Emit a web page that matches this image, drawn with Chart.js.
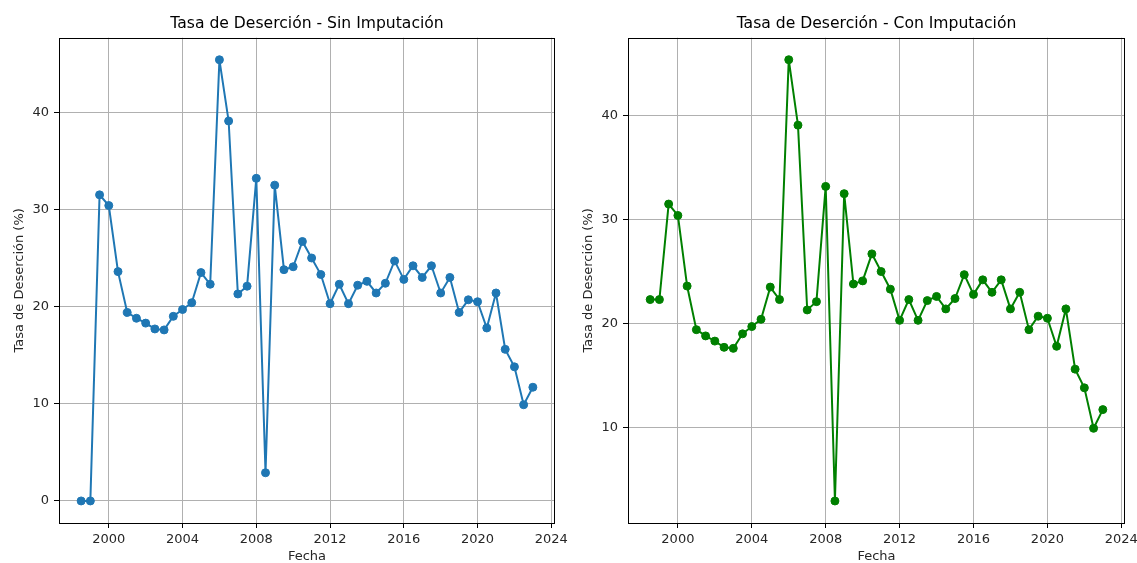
<!DOCTYPE html>
<html>
<head>
<meta charset="utf-8">
<script src="https://cdn.jsdelivr.net/npm/chart.js@4"></script>
<style>
  html, body { margin: 0; padding: 0; background: #fff; }
  body { width: 1137px; height: 563px; position: relative; overflow: hidden; }
  .panel { position: absolute; top: 0; height: 563px; }
  #panelSin { left: 0; width: 570px; }
  #panelCon { left: 568px; width: 569px; }
</style>
</head>
<body>
<div class="panel" id="panelSin"><canvas id="chartSin"></canvas></div>
<div class="panel" id="panelCon"><canvas id="chartCon"></canvas></div>
<script>
// Fechas (años decimales, semestrales)
const fechas = [
  1998.5, 1999, 1999.5, 2000, 2000.5, 2001, 2001.5, 2002, 2002.5, 2003,
  2003.5, 2004, 2004.5, 2005, 2005.5, 2006, 2006.5, 2007, 2007.5, 2008,
  2008.5, 2009, 2009.5, 2010, 2010.5, 2011, 2011.5, 2012, 2012.5, 2013,
  2013.5, 2014, 2014.5, 2015, 2015.5, 2016, 2016.5, 2017, 2017.5, 2018,
  2018.5, 2019, 2019.5, 2020, 2020.5, 2021, 2021.5, 2022, 2022.5, 2023
];

// Tasa de deserción sin imputación (%)
const sinImputacion = [
  0, 0, 31.5, 30.4, 23.6, 19.4, 18.8, 18.3, 17.7, 17.6,
  19.0, 19.7, 20.4, 23.5, 22.3, 45.4, 39.1, 21.3, 22.1, 33.2,
  2.9, 32.5, 23.8, 24.1, 26.7, 25.0, 23.3, 20.3, 22.3, 20.3,
  22.2, 22.6, 21.4, 22.4, 24.7, 22.8, 24.2, 23.0, 24.2, 21.4,
  23.0, 19.4, 20.7, 20.5, 17.8, 21.4, 15.6, 13.8, 9.9, 11.7
];

// Tasa de deserción con imputación (%)
const conImputacion = [
  22.3, 22.3, 31.5, 30.4, 23.6, 19.4, 18.8, 18.3, 17.7, 17.6,
  19.0, 19.7, 20.4, 23.5, 22.3, 45.4, 39.1, 21.3, 22.1, 33.2,
  2.9, 32.5, 23.8, 24.1, 26.7, 25.0, 23.3, 20.3, 22.3, 20.3,
  22.2, 22.6, 21.4, 22.4, 24.7, 22.8, 24.2, 23.0, 24.2, 21.4,
  23.0, 19.4, 20.7, 20.5, 17.8, 21.4, 15.6, 13.8, 9.9, 11.7
];

// Marcas de los ejes
const xTicks = [2000, 2004, 2008, 2012, 2016, 2020, 2024];
const yTicksSin = [0, 10, 20, 30, 40];
const yTicksCon = [10, 20, 30, 40];

const FONT = "'DejaVu Sans', sans-serif";
const TEXT = '#262626';

// Marco de los ejes (como los spines de matplotlib)
const framePlugin = {
  id: 'frame',
  afterDatasetsDraw(chart) {
    const a = chart.chartArea;
    const ctx = chart.ctx;
    ctx.save();
    ctx.strokeStyle = '#000';
    ctx.lineWidth = 1;
    ctx.strokeRect(Math.round(a.left) + 0.5, Math.round(a.top) + 0.5,
      Math.round(a.right - a.left) - 1, Math.round(a.bottom - a.top));
    ctx.restore();
  }
};

function crearGrafico(id, titulo, valores, color, yTicks, yMin, yMax, yWidth, yTitlePad, padRight) {
  const ctx = document.getElementById(id).getContext('2d');
  return new Chart(ctx, {
    type: 'line',
    data: {
      datasets: [{
        data: fechas.map((f, i) => ({ x: f, y: valores[i] })),
        borderColor: color,
        backgroundColor: color,
        borderWidth: 2,
        pointRadius: 4,
        pointBorderWidth: 1,
        pointBackgroundColor: color,
        pointBorderColor: color,
        tension: 0,
        fill: false
      }]
    },
    options: {
      responsive: true,
      maintainAspectRatio: false,
      animation: false,
      layout: { padding: { left: 0, right: padRight, top: 0, bottom: 0 } },
      scales: {
        x: {
          type: 'linear',
          min: 1997.3,
          max: 2024.2,
          afterBuildTicks: s => { s.ticks = xTicks.map(v => ({ value: v })); },
          afterFit: s => { s.height = 40; s.paddingLeft = 0; s.paddingRight = 0; },
          grid: { color: '#b0b0b0', lineWidth: 1, tickLength: 5, tickColor: '#000' },
          border: { display: false },
          ticks: {
            callback: v => String(v),
            maxRotation: 0,
            autoSkip: false,
            padding: 4,
            color: TEXT,
            font: { family: FONT, size: 13 }
          },
          title: {
            display: true,
            text: 'Fecha',
            color: TEXT,
            padding: { top: 0, bottom: 0 },
            font: { family: FONT, size: 13, lineHeight: 1 }
          }
        },
        y: {
          min: yMin,
          max: yMax,
          afterBuildTicks: s => { s.ticks = yTicks.map(v => ({ value: v })); },
          afterFit: s => { s.width = yWidth; s.paddingTop = 0; s.paddingBottom = 0; },
          grid: { color: '#b0b0b0', lineWidth: 1, tickLength: 5, tickColor: '#000' },
          border: { display: false },
          ticks: {
            callback: v => String(v),
            padding: 5,
            color: TEXT,
            font: { family: FONT, size: 13 }
          },
          title: {
            display: true,
            text: 'Tasa de Deserción (%)',
            color: TEXT,
            padding: { top: yTitlePad, bottom: 0 },
            font: { family: FONT, size: 13 }
          }
        }
      },
      plugins: {
        legend: { display: false },
        tooltip: { enabled: false },
        title: {
          display: true,
          fullSize: false,
          text: titulo,
          color: '#000',
          padding: { top: 15, bottom: 4 },
          font: { family: FONT, size: 15.6, weight: 'normal' }
        }
      }
    },
    plugins: [framePlugin]
  });
}

crearGrafico('chartSin', 'Tasa de Deserción - Sin Imputación', sinImputacion,
  '#1f77b4', yTicksSin, -2.27, 47.67, 59, 11.5, 15);
crearGrafico('chartCon', 'Tasa de Deserción - Con Imputación', conImputacion,
  '#008000', yTicksCon, 0.78, 47.52, 60, 12.5, 12);
</script>
</body>
</html>
